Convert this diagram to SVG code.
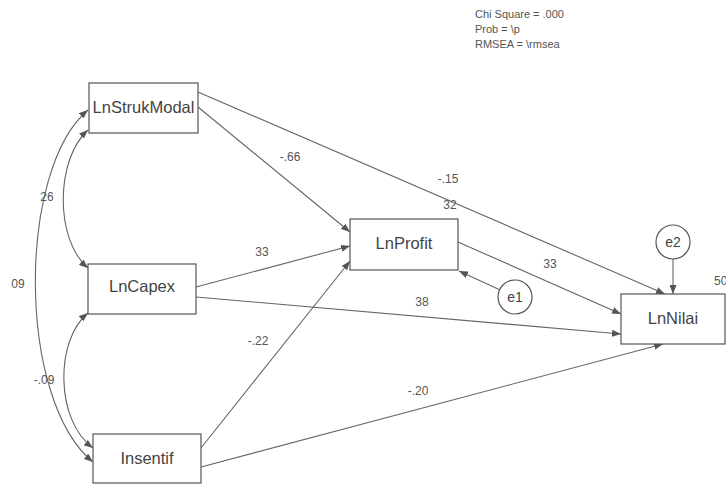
<svg xmlns="http://www.w3.org/2000/svg" width="726" height="485" viewBox="0 0 726 485">
<defs>
<style>
.box{fill:#fff;stroke:#555;stroke-width:1.2}
.circ{fill:#fff;stroke:#555;stroke-width:1.2}
.lbl{font-family:"Liberation Sans",Arial,sans-serif;font-size:16.5px;fill:#444;text-anchor:middle}
.elbl{font-family:"Liberation Sans",Arial,sans-serif;font-size:14px;fill:#444;text-anchor:middle}
.num{font-family:"Liberation Sans",Arial,sans-serif;font-size:12px;fill:#555;text-anchor:middle}
.hdr{font-family:"Liberation Sans",Arial,sans-serif;font-size:11px;fill:#555}
.edge{fill:none;stroke:#666;stroke-width:1.1;marker-end:url(#ah)}
.cov{fill:none;stroke:#666;stroke-width:1.1;marker-start:url(#ah);marker-end:url(#ah)}
</style>
<marker id="ah" markerUnits="userSpaceOnUse" markerWidth="9" markerHeight="7" refX="9" refY="3.5" orient="auto-start-reverse">
<path d="M0,0 L9,3.5 L0,7 z" fill="#555"/>
</marker>
</defs>
<rect width="726" height="485" fill="#fff"/>
<g id="header">
<text class="hdr" x="475" y="18">Chi Square = .000</text>
<text class="hdr" x="475" y="33">Prob = \p</text>
<text class="hdr" x="475" y="48">RMSEA = \rmsea</text>
</g>
<g id="connectors">
<path class="edge" d="M198,107 L350,232"/>
<path class="edge" d="M198,92 L665,294"/>
<path class="edge" d="M196,287 L350,246"/>
<path class="edge" d="M196,297 L621,334"/>
<path class="edge" d="M458,242 L621,314"/>
<path class="edge" d="M201,448 L350,261"/>
<path class="edge" d="M201,467 L663,344"/>
<path class="edge" d="M499.6,289.8 L459,271"/>
<path class="edge" d="M673,259 L673,294"/>
<path class="cov" d="M88,130 C55,160 55,240 88,268"/>
<path class="cov" d="M88,110 C17,170 17,400 93,462"/>
<path class="cov" d="M88,313 C55,340 55,420 93,448"/>
<text class="num" x="290" y="161">-.66</text>
<text class="num" x="448" y="183">-.15</text>
<text class="num" x="262" y="256">33</text>
<text class="num" x="422" y="306">38</text>
<text class="num" x="550" y="268">33</text>
<text class="num" x="258" y="345">-.22</text>
<text class="num" x="418" y="395">-.20</text>
<text class="num" x="47" y="201">26</text>
<text class="num" x="18" y="288">09</text>
<text class="num" x="44" y="384">-.09</text>
</g>
<g id="LnStrukModal">
<rect class="box" x="89" y="83" width="109" height="50"/>
<text class="lbl" x="143.5" y="113">LnStrukModal</text>
</g>
<g id="LnCapex">
<rect class="box" x="88" y="264" width="108" height="50"/>
<text class="lbl" x="142" y="292">LnCapex</text>
</g>
<g id="Insentif">
<rect class="box" x="93" y="434" width="108" height="49"/>
<text class="lbl" x="147" y="464">Insentif</text>
</g>
<g id="LnProfit">
<rect class="box" x="350" y="219" width="108" height="51"/>
<text class="lbl" x="404" y="249">LnProfit</text>
<text class="num" x="450" y="209">32</text>
</g>
<g id="LnNilai">
<rect class="box" x="621" y="294" width="104" height="50"/>
<text class="lbl" x="673" y="324">LnNilai</text>
<text class="num" x="714" y="285" style="text-anchor:start">50</text>
</g>
<g id="e1">
<circle class="circ" cx="515" cy="297" r="17"/>
<text class="elbl" x="515" y="302">e1</text>
</g>
<g id="e2">
<circle class="circ" cx="673" cy="242" r="17"/>
<text class="elbl" x="673" y="247">e2</text>
</g>
</svg>
